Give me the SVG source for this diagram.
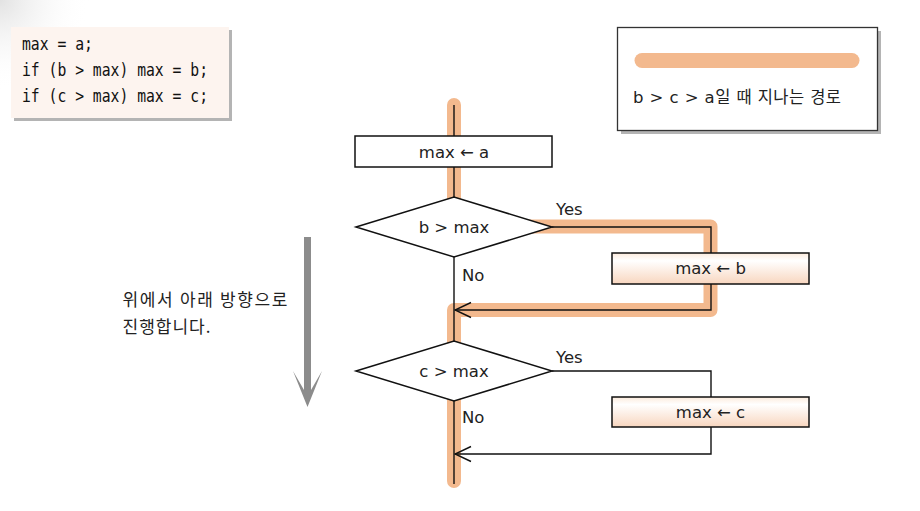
<svg xmlns="http://www.w3.org/2000/svg" width="920" height="511" viewBox="0 0 920 511">
<defs>
<style>
.lbl{font-family:"DejaVu Sans","Noto Sans CJK KR",sans-serif;font-size:16.5px;fill:#222}
.kr{font-family:"Noto Sans CJK KR",sans-serif;font-size:17px;fill:#222}
.code{font-family:"DejaVu Sans Mono","Liberation Mono",monospace;font-size:17px;fill:#111}
.node{fill:#fff;stroke:#111;stroke-width:1.5}
.grad{fill:url(#peach);stroke:#111;stroke-width:1.5}
.wire{fill:none;stroke:#111;stroke-width:1.4}
.hl{fill:none;stroke:#F3B98E;stroke-width:14;stroke-linecap:round;stroke-linejoin:round}
</style>
<linearGradient id="peach" x1="0" y1="0" x2="0" y2="1">
<stop offset="0" stop-color="#FCEBDD"/>
<stop offset="0.25" stop-color="#FFFFFF"/>
<stop offset="1" stop-color="#F8D6BF"/>
</linearGradient>
<radialGradient id="corner" cx="0" cy="0" r="90" gradientUnits="userSpaceOnUse">
<stop offset="0" stop-color="#e2e2e2"/>
<stop offset="1" stop-color="#ffffff" stop-opacity="0"/>
</radialGradient>
<marker id="open" viewBox="0 0 18 18" refX="17" refY="9" markerWidth="18" markerHeight="18" markerUnits="userSpaceOnUse" orient="auto">
<path d="M1,1.5 L17,9 L1,16.5" fill="none" stroke="#111" stroke-width="1.4"/>
</marker>
</defs>
<rect width="920" height="511" fill="#fff"/>
<rect width="120" height="120" fill="url(#corner)"/>

<g id="code">
<rect x="14" y="30" width="218" height="91" fill="#b4b4b4"/>
<rect x="11" y="27" width="218" height="91" fill="#FDF4EF"/>
<text class="code" x="22" y="50" textLength="71" lengthAdjust="spacingAndGlyphs">max = a;</text>
<text class="code" x="22" y="76" textLength="186" lengthAdjust="spacingAndGlyphs">if (b &gt; max) max = b;</text>
<text class="code" x="22" y="102" textLength="186" lengthAdjust="spacingAndGlyphs">if (c &gt; max) max = c;</text>
</g>

<g id="legend">
<rect x="621" y="31" width="260" height="103" fill="#b4b4b4"/>
<rect x="617.5" y="27.5" width="260" height="103" fill="#fff" stroke="#333" stroke-width="1.3"/>
<line x1="642" y1="60.5" x2="852" y2="60.5" stroke="#F3B98E" stroke-width="15" stroke-linecap="round"/>
<text class="lbl" x="633" y="103" font-size="15.5" textLength="208">b &gt; c &gt; a일 때 지나는 경로</text>
</g>

<g id="direction">
<polygon points="304,237 304,390 293,371 307.5,407 322,371 311,390 311,237" fill="#8c8c8c"/>
<text class="kr" x="122.5" y="306" textLength="165">위에서 아래 방향으로</text>
<text class="kr" x="122.5" y="333" textLength="88">진행합니다.</text>
</g>

<g id="highlight">
<path class="hl" d="M454,105 V226.5 H710.5 V310 H454 V481"/>
</g>

<g id="connectors">
<line class="wire" x1="454" y1="105" x2="454" y2="136"/>
<line class="wire" x1="454" y1="167" x2="454" y2="197"/>
<path class="wire" d="M552,227 H711 V310 H455" marker-end="url(#open)"/>
<line class="wire" x1="454" y1="257" x2="454" y2="341"/>
<path class="wire" d="M552,371 H711 V454 H455" marker-end="url(#open)"/>
<line class="wire" x1="454" y1="401" x2="454" y2="484"/>
<text class="lbl" x="556" y="215">Yes</text>
<text class="lbl" x="462" y="280.5">No</text>
<text class="lbl" x="556" y="363">Yes</text>
<text class="lbl" x="462" y="423">No</text>
</g>

<g id="assign-a">
<rect class="node" x="355" y="136" width="197" height="31"/>
<text class="lbl" x="454" y="157.5" text-anchor="middle">max ← a</text>
</g>

<g id="cond-b">
<polygon class="node" points="356,227 454,197 552,227 454,257"/>
<text class="lbl" x="454" y="232.5" text-anchor="middle">b &gt; max</text>
</g>

<g id="assign-b">
<rect class="grad" x="612" y="253" width="197" height="31"/>
<text class="lbl" x="710.5" y="274" text-anchor="middle">max ← b</text>
</g>

<g id="cond-c">
<polygon class="node" points="356,371 454,341 552,371 454,401"/>
<text class="lbl" x="454" y="376.5" text-anchor="middle">c &gt; max</text>
</g>

<g id="assign-c">
<rect class="grad" x="612" y="397" width="197" height="30"/>
<text class="lbl" x="710.5" y="417.5" text-anchor="middle">max ← c</text>
</g>
</svg>
